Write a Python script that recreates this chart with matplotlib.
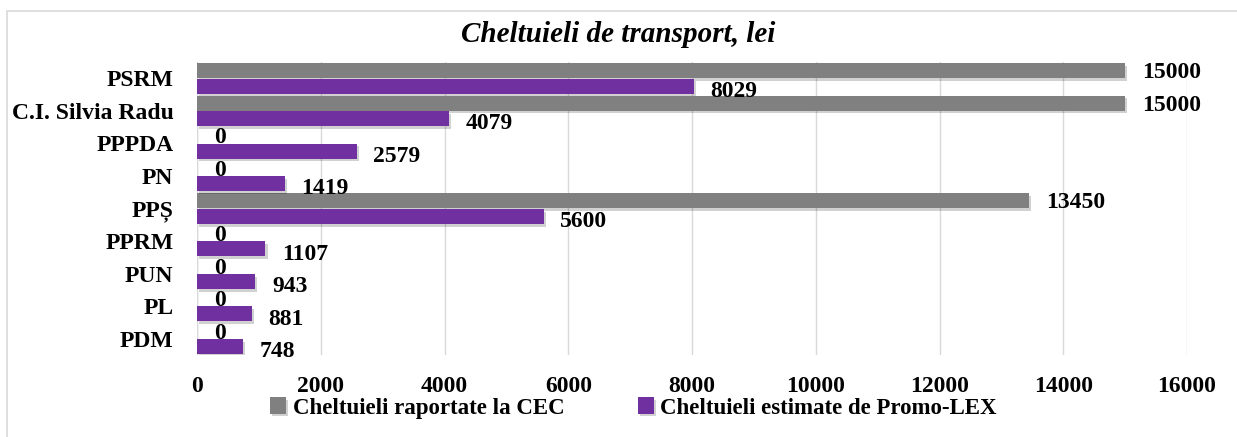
import matplotlib.pyplot as plt
import matplotlib.patheffects as pe
from matplotlib.patches import Rectangle
import numpy as np

parties = ["PSRM", "C.I. Silvia Radu", "PPPDA", "PN", "PPȘ", "PPRM", "PUN", "PL", "PDM"]
raportate = [15000, 15000, 0, 0, 13450, 0, 0, 0, 0]
estimate = [8029, 4079, 2579, 1419, 5600, 1107, 943, 881, 748]
xticks = [0, 2000, 4000, 6000, 8000, 10000, 12000, 14000, 16000]

gray = "#808080"
purple = "#7030A0"
serif = ["Liberation Serif", "DejaVu Serif"]

fig = plt.figure(figsize=(12.37, 4.37), dpi=100)
ax = fig.add_axes([197 / 1237, 1 - 355 / 437, 990 / 1237, 293 / 437])

# light frame around the chart
fig.patches.append(Rectangle((7 / 1237, -0.05), 1.1, 1 - 11 / 437 + 0.05,
                             transform=fig.transFigure, fill=False,
                             edgecolor="#d9d9d9", linewidth=1.2))

n = len(parties)
y = np.arange(n)[::-1]
h = 0.46
shadow = [pe.SimplePatchShadow(offset=(1.5, -2), shadow_rgbFace="black", alpha=0.18), pe.Normal()]

b1 = ax.barh(y + 0.24, raportate, height=h, color=gray, label="Cheltuieli raportate la CEC",
             path_effects=shadow, zorder=3)
b2 = ax.barh(y - 0.24, estimate, height=h, color=purple, label="Cheltuieli estimate de Promo-LEX",
             path_effects=shadow, zorder=3)

for yi, v in zip(y, raportate):
    ax.text(v + 270, yi + 0.17, str(v), ha="left", va="center", fontsize=17,
            fontweight="bold", family=serif, zorder=4)
for yi, v in zip(y, estimate):
    ax.text(v + 270, yi - 0.40, str(v), ha="left", va="center", fontsize=17,
            fontweight="bold", family=serif, zorder=4)

ax.set_xlim(0, 16000)
ax.set_ylim(-0.5, n - 0.5)
ax.set_xticks(xticks)
ax.set_xticklabels([str(t) for t in xticks], fontsize=17, fontweight="bold", family=serif)
ax.set_yticks(y)
ax.set_yticklabels(parties, fontsize=17, fontweight="bold", family=serif)
ax.tick_params(axis="both", length=0)
ax.tick_params(axis="x", pad=15)
ax.tick_params(axis="y", pad=17)
ax.grid(axis="x", color="#d9d9d9", linewidth=1, zorder=0)
for s in ax.spines.values():
    s.set_visible(False)
ax.axvline(0, color="#d9d9d9", linewidth=1, zorder=1)

fig.text(0.5, 1 - 35 / 437, "Cheltuieli de transport, lei", ha="center", va="center",
         fontsize=21, style="italic", fontweight="bold", family=serif)

fig.legend(handles=[b1, b2], loc="center", bbox_to_anchor=(0.512, 1 - 408 / 437), ncol=2,
           frameon=False, handlelength=0.7, handleheight=0.7, handletextpad=0.3,
           columnspacing=3.2, prop={"family": serif, "weight": "bold", "size": 16.5})

fig.savefig("out.png", dpi=100)
